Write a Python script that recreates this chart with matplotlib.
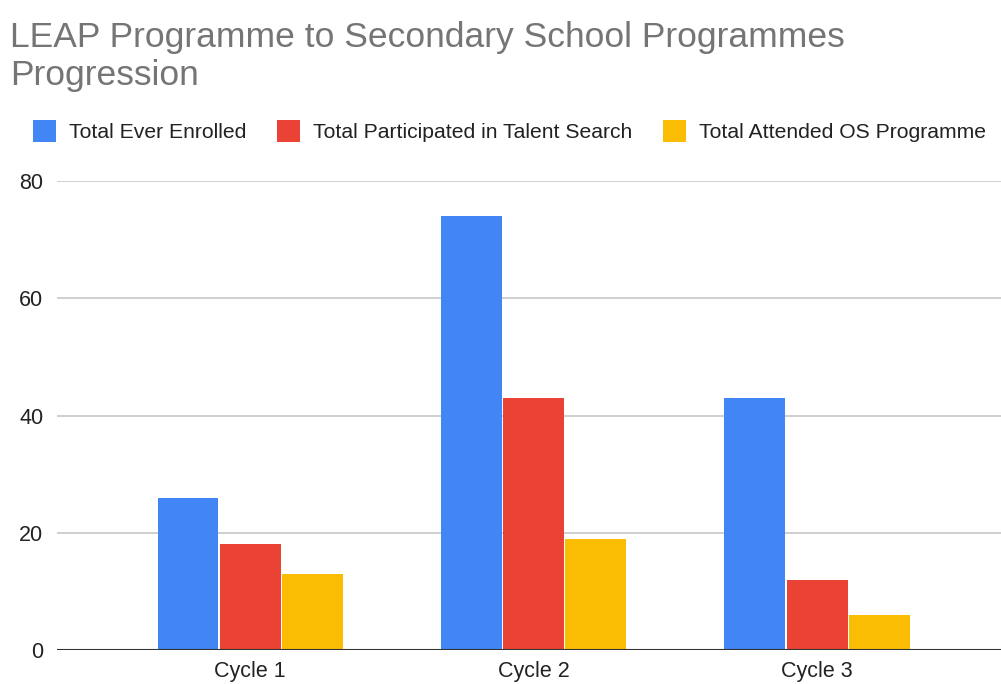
import numpy as np
import matplotlib.pyplot as plt

cycles = ["Cycle 1", "Cycle 2", "Cycle 3"]
series = ["Total Ever Enrolled", "Total Participated in Talent Search", "Total Attended OS Programme"]
enrolled = [26, 74, 43]
talent = [18, 43, 12]
attended = [13, 19, 6]
colors = ["#4285F4", "#EA4335", "#FBBC04"]

plt.rcParams['font.family'] = ['Liberation Sans', 'DejaVu Sans']

fig = plt.figure(figsize=(10.01, 6.84), dpi=100)
ax = fig.add_axes([0.057, 1 - 650 / 684, 0.943, (650 - 181) / 684])

x = np.arange(len(cycles))
w = 0.215
step = 0.219
for i, (vals, name) in enumerate(zip([enrolled, talent, attended], series)):
    ax.bar(x + (i - 1) * step, vals, width=w, color=colors[i], label=name, zorder=3)

ax.set_ylim(0, 80)
ax.set_xlim(-0.681, 2.649)
ax.set_yticks([0, 20, 40, 60, 80])
ax.set_xticks(x)
ax.set_xticklabels(cycles)
ax.grid(axis="y", color="#cccccc", linewidth=1.3, zorder=0)
ax.axhline(0, color="#333333", linewidth=1.5, zorder=4)
for s in ax.spines.values():
    s.set_visible(False)
ax.tick_params(length=0, labelsize=15.5, colors="#222222")
ax.tick_params(axis="y", pad=10)
ax.tick_params(axis="x", pad=8)
ax.set_axisbelow(True)

fig.text(10 / 1001, 1 - 21 / 684, "LEAP Programme to Secondary School Programmes\nProgression",
         fontsize=25.5, color="#757575", va="top", ha="left", linespacing=1.2)

fig.legend(loc="center left", bbox_to_anchor=(14 / 1001, 1 - 131 / 684), ncol=3, frameon=False,
           fontsize=15.2, handlelength=1.1, handleheight=1.25, handletextpad=0.6,
           columnspacing=1.45, labelcolor="#222222")

plt.savefig("out.png", dpi=100)
